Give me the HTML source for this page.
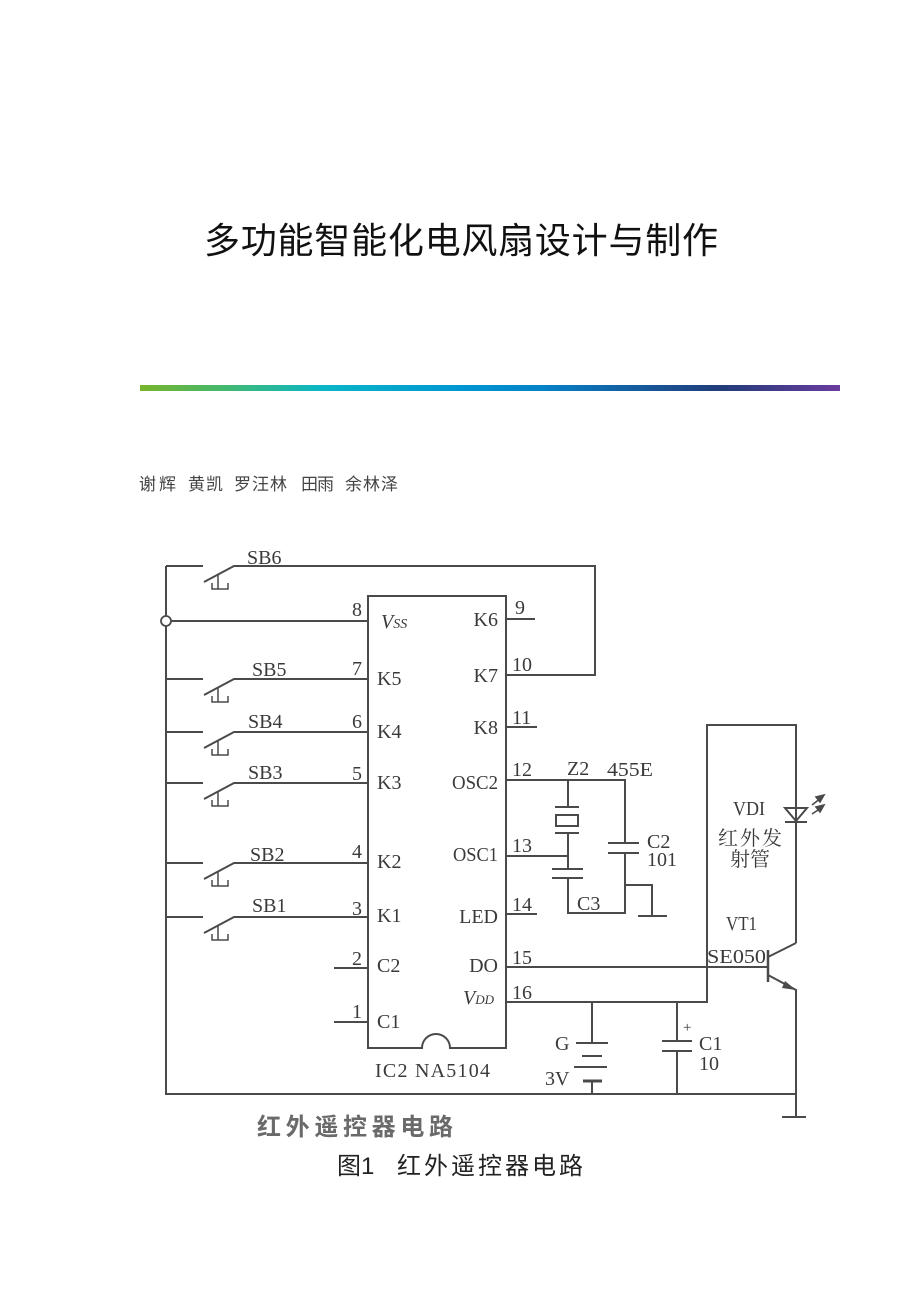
<!DOCTYPE html>
<html><head><meta charset="utf-8"><style>
html,body{margin:0;padding:0;background:#fff;}
body{width:920px;height:1302px;position:relative;overflow:hidden;}
svg{position:absolute;left:0;top:0;}
.t{font-family:"Liberation Serif","Noto Serif CJK SC",serif;font-size:20px;fill:#3a3a3a;}
</style></head><body>
<svg width="920" height="1302" viewBox="0 0 920 1302" xmlns="http://www.w3.org/2000/svg">
<defs>
<linearGradient id="g" x1="0" x2="1" y1="0" y2="0">
<stop offset="0" stop-color="#78b42a"/>
<stop offset="0.13" stop-color="#3fb874"/>
<stop offset="0.26" stop-color="#0ab6c6"/>
<stop offset="0.45" stop-color="#0098d2"/>
<stop offset="0.57" stop-color="#0583c9"/>
<stop offset="0.72" stop-color="#16589a"/>
<stop offset="0.83" stop-color="#213c79"/>
<stop offset="1" stop-color="#6a3c9e"/>
</linearGradient>
</defs>
<!-- Title -->
<text x="204" y="253" textLength="514" lengthAdjust="spacing" style="font-family:'Liberation Sans','Noto Sans CJK SC',sans-serif;font-size:36px;font-weight:400;fill:#111;">多功能智能化电风扇设计与制作</text>
<!-- bar -->
<rect x="140" y="385" width="700" height="6" fill="url(#g)"/>
<!-- authors -->
<g style="font-family:'Liberation Sans','Noto Sans CJK SC',sans-serif;font-size:17px;fill:#444;">
<text x="139" y="490" textLength="37" lengthAdjust="spacing">谢辉</text>
<text x="188" y="490" textLength="35" lengthAdjust="spacing">黄凯</text>
<text x="234" y="490" textLength="53" lengthAdjust="spacing">罗汪林</text>
<text x="301" y="490" textLength="33" lengthAdjust="spacing">田雨</text>
<text x="345" y="490" textLength="53" lengthAdjust="spacing">余林泽</text>
</g>

<!-- circuit lines -->
<g fill="none" stroke="#4a4a4a" stroke-width="2">
<path d="M166 566 V1094 H796"/>
<path d="M368 596 H506 V1048 H450 A14 14 0 0 0 422 1048 H368 Z"/>
<path d="M166 566 H203"/>
<path d="M204 582 L234 566 H595 V675 H506"/>
<path d="M171 621 H368"/>
<path d="M166 679 H203 M204 695 L234 679 H368"/>
<path d="M166 732 H203 M204 748 L234 732 H368"/>
<path d="M166 783 H203 M204 799 L234 783 H368"/>
<path d="M166 863 H203 M204 879 L234 863 H368"/>
<path d="M166 917 H203 M204 933 L234 917 H368"/>
<path d="M334 968 H368 M334 1022 H368"/>
<path d="M506 619 H535 M506 727 H537 M506 914 H537"/>
<path d="M506 780 H625 V843 M625 853 V913 H568 V878"/>
<path d="M625 885 H652 V916 M638 916 H667"/>
<path d="M568 780 V807 M568 833 V869"/>
<path d="M506 856 H568"/>
<path d="M555 807 H579 M555 833 H579"/>
<rect x="556" y="815" width="22" height="11"/>
<path d="M552 869 H583 M552 878 H583"/>
<path d="M608 843 H639 M608 853 H639"/>
<path d="M506 967 H768"/>
<path d="M506 1002 H707 V725 H796 V943"/>
<path d="M592 1002 V1043 M576 1043 H608 M582 1056 H602 M574 1067 H607"/>
<path d="M583 1081 H602" stroke-width="3"/>
<path d="M592 1081 V1094"/>
<path d="M677 1002 V1041 M662 1041 H692 M662 1051 H692 M677 1051 V1094"/>
<path d="M768 950 V982" stroke-width="2.5"/>
<path d="M768 957 L796 943"/>
<path d="M768 975 L796 990 V1117 M782 1117 H806"/>
<path d="M785 808 H807 L796 821 Z M785 822 H807"/>
</g>
<path d="M796 990 L785 981 L782 988 Z" fill="#4a4a4a"/>
<g stroke="#4a4a4a" stroke-width="1.6" fill="#4a4a4a">
<path d="M812 805 L821 798"/>
<path d="M824 795 L816 797 L820 802 Z"/>
<path d="M812 814 L821 808"/>
<path d="M824 805 L816 807 L820 812 Z"/>
</g>
<circle cx="166" cy="621" r="5" fill="#fff" stroke="#4a4a4a" stroke-width="1.8"/>

<g fill="none" stroke="#4a4a4a" stroke-width="1.5">
<path d="M218 575 V589 M212 583 V589 H228 V583"/>
<path d="M218 688 V702 M212 696 V702 H228 V696"/>
<path d="M218 741 V755 M212 749 V755 H228 V749"/>
<path d="M218 792 V806 M212 800 V806 H228 V800"/>
<path d="M218 872 V886 M212 880 V886 H228 V880"/>
<path d="M218 926 V940 M212 934 V940 H228 V934"/>
</g>

<g class="t">
<text x="247" y="564">SB6</text>
<text x="252" y="676">SB5</text>
<text x="248" y="728">SB4</text>
<text x="248" y="779">SB3</text>
<text x="250" y="861">SB2</text>
<text x="252" y="912">SB1</text>

<g text-anchor="end">
<text x="362" y="616">8</text>
<text x="362" y="675">7</text>
<text x="362" y="728">6</text>
<text x="362" y="780">5</text>
<text x="362" y="858">4</text>
<text x="362" y="915">3</text>
<text x="362" y="965">2</text>
<text x="362" y="1018">1</text>
</g>

<text x="381" y="628" font-style="italic">V<tspan font-size="14">SS</tspan></text>
<text x="377" y="685">K5</text>
<text x="377" y="738">K4</text>
<text x="377" y="789">K3</text>
<text x="377" y="868">K2</text>
<text x="377" y="922">K1</text>
<text x="377" y="972">C2</text>
<text x="377" y="1028">C1</text>

<g text-anchor="end">
<text x="498" y="626">K6</text>
<text x="498" y="682">K7</text>
<text x="498" y="734">K8</text>
<text x="498" y="789" textLength="46" lengthAdjust="spacingAndGlyphs">OSC2</text>
<text x="498" y="861" textLength="45" lengthAdjust="spacingAndGlyphs">OSC1</text>
<text x="498" y="923">LED</text>
<text x="498" y="972">DO</text>
<text x="494" y="1004" font-style="italic">V<tspan font-size="13">DD</tspan></text>
</g>

<text x="515" y="614">9</text>
<text x="512" y="671">10</text>
<text x="512" y="724">11</text>
<text x="512" y="776">12</text>
<text x="512" y="852">13</text>
<text x="512" y="911">14</text>
<text x="512" y="964">15</text>
<text x="512" y="999">16</text>

<text x="375" y="1077" textLength="115" lengthAdjust="spacing">IC2 NA5104</text>

<text x="567" y="775">Z2</text>
<text x="607" y="776" textLength="46" lengthAdjust="spacingAndGlyphs">455E</text>
<text x="647" y="848">C2</text>
<text x="647" y="866">101</text>
<text x="577" y="910">C3</text>
<text x="733" y="815" textLength="32" lengthAdjust="spacingAndGlyphs">VDI</text>
<text x="726" y="930" textLength="31" lengthAdjust="spacingAndGlyphs">VT1</text>
<text x="707" y="963" textLength="59" lengthAdjust="spacingAndGlyphs">SE050</text>

<text x="555" y="1050">G</text>
<text x="545" y="1085">3V</text>
<text x="683" y="1032" font-size="15">+</text>
<text x="699" y="1050">C1</text>
<text x="699" y="1070">10</text>
</g>
<g style="font-family:'Liberation Serif','Noto Serif CJK SC',serif;font-size:20px;fill:#3a3a3a;">
<text x="718" y="845" textLength="64" lengthAdjust="spacing">红外发</text>
<text x="730" y="866">射管</text>
</g>

<text x="257" y="1135" textLength="196" lengthAdjust="spacing" style="font-family:'Liberation Sans','Noto Sans CJK SC',sans-serif;font-size:24px;font-weight:bold;fill:#6a6a6a;">红外遥控器电路</text>
<text x="337" y="1174" style="font-family:'Liberation Sans','Noto Sans CJK SC',sans-serif;font-size:24px;fill:#222;">图1</text>
<text x="397" y="1174" textLength="186" lengthAdjust="spacing" style="font-family:'Liberation Sans','Noto Sans CJK SC',sans-serif;font-size:24px;fill:#222;">红外遥控器电路</text>
</svg>
</body></html>
